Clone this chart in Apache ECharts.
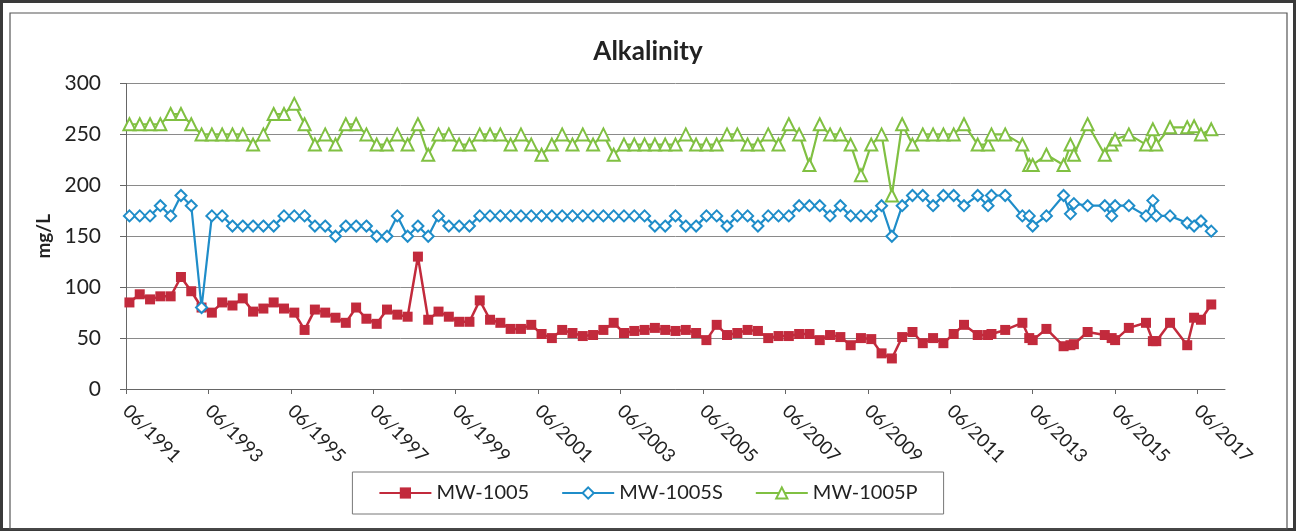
<!DOCTYPE html>
<html>
<head>
<meta charset="utf-8">
<script src="https://cdn.jsdelivr.net/npm/echarts@6/dist/echarts.min.js"></script>
<style>
html,body{margin:0;padding:0;background:#fff;}
#chart{width:1296px;height:531px;}
</style>
</head>
<body>
<div id="chart"></div>
<script>
// Sampling dates (YYYY-MM)
const dates = [
 '1991-07','1991-10','1992-01','1992-04','1992-07','1992-10','1993-01','1993-04','1993-07','1993-10',
 '1994-01','1994-04','1994-07','1994-10','1995-01','1995-04','1995-07','1995-10','1996-01','1996-04',
 '1996-07','1996-10','1997-01','1997-04','1997-07','1997-10','1998-01','1998-04','1998-07','1998-10',
 '1999-01','1999-04','1999-07','1999-10','2000-01','2000-04','2000-07','2000-10','2001-01','2001-04',
 '2001-07','2001-10','2002-01','2002-04','2002-07','2002-10','2003-01','2003-04','2003-07','2003-10',
 '2004-01','2004-04','2004-07','2004-10','2005-01','2005-04','2005-07','2005-10','2006-01','2006-04',
 '2006-07','2006-10','2007-01','2007-04','2007-07','2007-10','2008-01','2008-04','2008-07','2008-10',
 '2009-01','2009-04','2009-07','2009-10','2010-01','2010-04','2010-07','2010-10','2011-01','2011-04',
 '2011-07','2011-10','2012-02','2012-05','2012-06','2012-10','2013-03','2013-05','2013-06','2013-10',
 '2014-03','2014-05','2014-06','2014-10','2015-03','2015-05','2015-06','2015-10','2016-03','2016-05',
 '2016-06','2016-10','2017-03','2017-05','2017-07','2017-10'
];
// MW-1005 (mg/L)
const mw1005 = [
 85,93,88,91,91,110,96,80,75,85,
 82,89,76,79,85,79,75,58,78,75,
 70,65,80,69,64,78,73,71,130,68,
 76,71,66,66,87,68,65,59,59,63,
 54,50,58,55,52,53,58,65,55,57,
 58,60,58,57,58,55,48,63,53,55,
 58,57,50,52,52,54,54,48,53,51,
 43,50,49,35,30,51,56,45,50,45,
 54,63,53,53,54,58,65,50,48,59,
 42,43,44,56,53,50,48,60,65,47,
 47,65,43,70,68,83
];
// MW-1005S (mg/L)
const mw1005S = [
 170,170,170,180,170,190,180,80,170,170,
 160,160,160,160,160,170,170,170,160,160,
 150,160,160,160,150,150,170,150,160,150,
 170,160,160,160,170,170,170,170,170,170,
 170,170,170,170,170,170,170,170,170,170,
 170,160,160,170,160,160,170,170,160,170,
 170,160,170,170,170,180,180,180,170,180,
 170,170,170,180,150,180,190,190,180,190,
 190,180,190,180,190,190,170,170,160,170,
 190,172,182,180,180,170,180,180,170,185,
 170,170,163,160,165,155
];
// MW-1005P (mg/L)
const mw1005P = [
 260,260,260,260,270,270,260,250,250,250,
 250,250,240,250,270,270,280,260,240,250,
 240,260,260,250,240,240,250,240,260,230,
 250,250,240,240,250,250,250,240,250,240,
 230,240,250,240,250,240,250,230,240,240,
 240,240,240,240,250,240,240,240,250,250,
 240,240,250,240,260,250,220,260,250,250,
 240,210,240,250,190,260,240,250,250,250,
 250,260,240,240,250,250,240,220,220,230,
 220,240,230,260,230,240,245,250,240,255,
 240,257,257,258,250,255
];
const xTickLabels = ['06/1991','06/1993','06/1995','06/1997','06/1999','06/2001','06/2003',
 '06/2005','06/2007','06/2009','06/2011','06/2013','06/2015','06/2017'];
const seriesNames = ['MW-1005','MW-1005S','MW-1005P'];

// months since 06/1991 (axis origin)
function toMonths(d){ const p = d.split('-').map(Number); return (p[0]-1991)*12 + (p[1]-6); }
function pairs(vals){ return dates.map((d,i)=>[toMonths(d), vals[i]]); }
const tickMonths = xTickLabels.map(s=>{ const p=s.split('/'); return (Number(p[1])-1991)*12 + (Number(p[0])-6); });

const FONT = 'Lato';
const chart = echarts.init(document.getElementById('chart'), null, {renderer:'canvas'});
chart.setOption({
  animation:false,
  backgroundColor:'#ffffff',
  textStyle:{fontFamily:FONT},
  graphic:[
    {type:'rect', silent:true, z:-10, shape:{x:1.5,y:1.5,width:1293,height:528}, style:{fill:null, stroke:'#3a3a3a', lineWidth:3}},
    {type:'rect', silent:true, z:-10, shape:{x:10,y:13,width:1277,height:516}, style:{fill:null, stroke:'#555', lineWidth:1.2}}
  ],
  title:{text:'Alkalinity', left:'center', top:34,
    textStyle:{fontFamily:FONT, fontWeight:'bold', fontSize:26, color:'#222'}},
  legend:{left:'center', top:472, data:seriesNames,
    borderColor:'#777', borderWidth:1, padding:[11,26], itemGap:32,
    itemWidth:52, itemHeight:14,
    textStyle:{fontFamily:FONT, fontSize:20, color:'#222'}},
  grid:{left:126, right:71, top:83.5, bottom:142},
  xAxis:{type:'value', min:0, max:320, interval:24,
    axisLine:{show:true, lineStyle:{color:'#666', width:1}},
    axisTick:{show:true, length:5, inside:false, customValues:tickMonths, lineStyle:{color:'#666'}},
    splitLine:{show:false},
    axisLabel:{rotate:-45, margin:19, fontSize:18.5, color:'#222', fontFamily:FONT,
      customValues:tickMonths,
      formatter:function(v){ const i = tickMonths.indexOf(Math.round(v)); return i>=0 ? xTickLabels[i] : ''; }}},
  yAxis:{type:'value', min:0, max:300, interval:50,
    name:'mg/L', nameLocation:'middle', nameGap:70,
    nameTextStyle:{fontFamily:FONT, fontWeight:'bold', fontSize:19, color:'#222'},
    axisLine:{show:true, lineStyle:{color:'#666', width:1}},
    axisTick:{show:true, length:6, lineStyle:{color:'#666'}},
    splitLine:{show:true, lineStyle:{color:'#8a8a8a', width:1}},
    axisLabel:{margin:25, fontSize:21, color:'#222', fontFamily:FONT}},
  series:[
    {name:seriesNames[0], type:'line', data:pairs(mw1005), symbol:'rect', symbolSize:10,
      lineStyle:{color:'#C22A3C', width:2.5}, itemStyle:{color:'#C22A3C'}},
    {name:seriesNames[1], type:'line', data:pairs(mw1005S), symbol:'emptyDiamond', symbolSize:11,
      lineStyle:{color:'#1F8DC9', width:2.2}, itemStyle:{color:'#1F8DC9', borderWidth:2}},
    {name:seriesNames[2], type:'line', data:pairs(mw1005P), symbol:'emptyTriangle', symbolSize:12,
      lineStyle:{color:'#80C042', width:2.2}, itemStyle:{color:'#80C042', borderWidth:2}}
  ]
});
</script>
</body>
</html>
